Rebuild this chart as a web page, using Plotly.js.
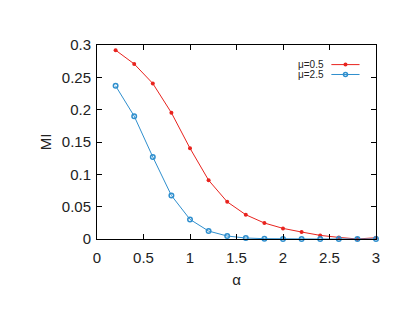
<!DOCTYPE html>
<html><head><meta charset="utf-8">
<script src="https://cdn.plot.ly/plotly-3.0.1.min.js"></script>
<style>html,body{margin:0;padding:0;background:#fff}#chart{width:415px;height:321px}</style>
</head><body><div id="chart"></div>
<script>
const alpha = [0.2,0.4,0.6,0.8,1.0,1.2,1.4,1.6,1.8,2.0,2.2,2.4,2.6,2.8,3.0];
const miMu05 = [0.292,0.2707,0.2405,0.1952,0.1403,0.0909,0.0575,0.0375,0.0247,0.0164,0.0108,0.0056,0.0025,0.0,0.002];
const miMu25 = [0.2368,0.190,0.1269,0.0673,0.0303,0.0123,0.0046,0.0015,0.0005,0.0,0.0,0.0,0.0,0.0,0.0];
const names = ["μ=0.5","μ=2.5"];
const xTicks = [0,0.5,1,1.5,2,2.5,3];
const yTicks = [0,0.05,0.1,0.15,0.2,0.25,0.3];
const red = "#e8231e", blue = "#2f8fce";
const font = "Liberation Sans, Arial, sans-serif";

const traces = [
  {x: alpha, y: miMu05, mode: "lines+markers", name: names[0], showlegend:false,
   line:{color:red,width:1}, marker:{color:red,size:4,symbol:"circle"}, cliponaxis:false},
  {x: alpha, y: miMu25, mode: "lines+markers", name: names[1], showlegend:false,
   line:{color:blue,width:1}, marker:{color:blue,size:4.5,symbol:"circle-open",line:{width:1.5,color:blue}}, cliponaxis:false}
];

const axisCommon = {showline:true, linecolor:"#000", linewidth:1, mirror:"ticks", ticks:"inside",
  ticklen:5, tickcolor:"#000", showgrid:false, zeroline:false,
  tickfont:{family:font,size:15,color:"#222"}};

const layout = {
  width:415, height:321, margin:{l:97,r:39,t:45,b:82},
  paper_bgcolor:"#fff", plot_bgcolor:"#fff", showlegend:false,
  xaxis: Object.assign({}, axisCommon, {range:[0,3], tickvals:xTicks, ticktext:xTicks.map(String),
    ticklabelstandoff:5,
    title:{text:"α", font:{family:font,size:15,color:"#222"}, standoff:9}}),
  yaxis: Object.assign({}, axisCommon, {range:[0,0.3], tickvals:yTicks, ticktext:yTicks.map(String),
    ticklabelstandoff:2,
    title:{text:"MI", font:{family:font,size:15,color:"#222"}, standoff:6}}),
  annotations: [
    {xref:"paper", yref:"paper", x:0.82, y:0.901, xanchor:"right", yanchor:"middle", text:names[0], showarrow:false,
     font:{family:font,size:10,color:"#222"}},
    {xref:"paper", yref:"paper", x:0.82, y:0.846, xanchor:"right", yanchor:"middle", text:names[1], showarrow:false,
     font:{family:font,size:10,color:"#222"}}
  ],
  shapes: [
    {type:"line", xref:"paper", yref:"paper", x0:0.840, x1:0.941, y0:0.899, y1:0.899, line:{color:red,width:1}},
    {type:"line", xref:"paper", yref:"paper", x0:0.840, x1:0.941, y0:0.848, y1:0.848, line:{color:blue,width:1}},
    {type:"circle", xref:"paper", yref:"paper", xsizemode:"pixel", ysizemode:"pixel", xanchor:0.8906, yanchor:0.899,
     x0:-2, x1:2, y0:-2, y1:2, fillcolor:red, line:{color:red,width:0}},
    {type:"circle", xref:"paper", yref:"paper", xsizemode:"pixel", ysizemode:"pixel", xanchor:0.8906, yanchor:0.848,
     x0:-2, x1:2, y0:-2, y1:2, fillcolor:"rgba(0,0,0,0)", line:{color:blue,width:1.5}}
  ]
};
Plotly.newPlot("chart", traces, layout, {staticPlot:true, displayModeBar:false});
</script></body></html>
